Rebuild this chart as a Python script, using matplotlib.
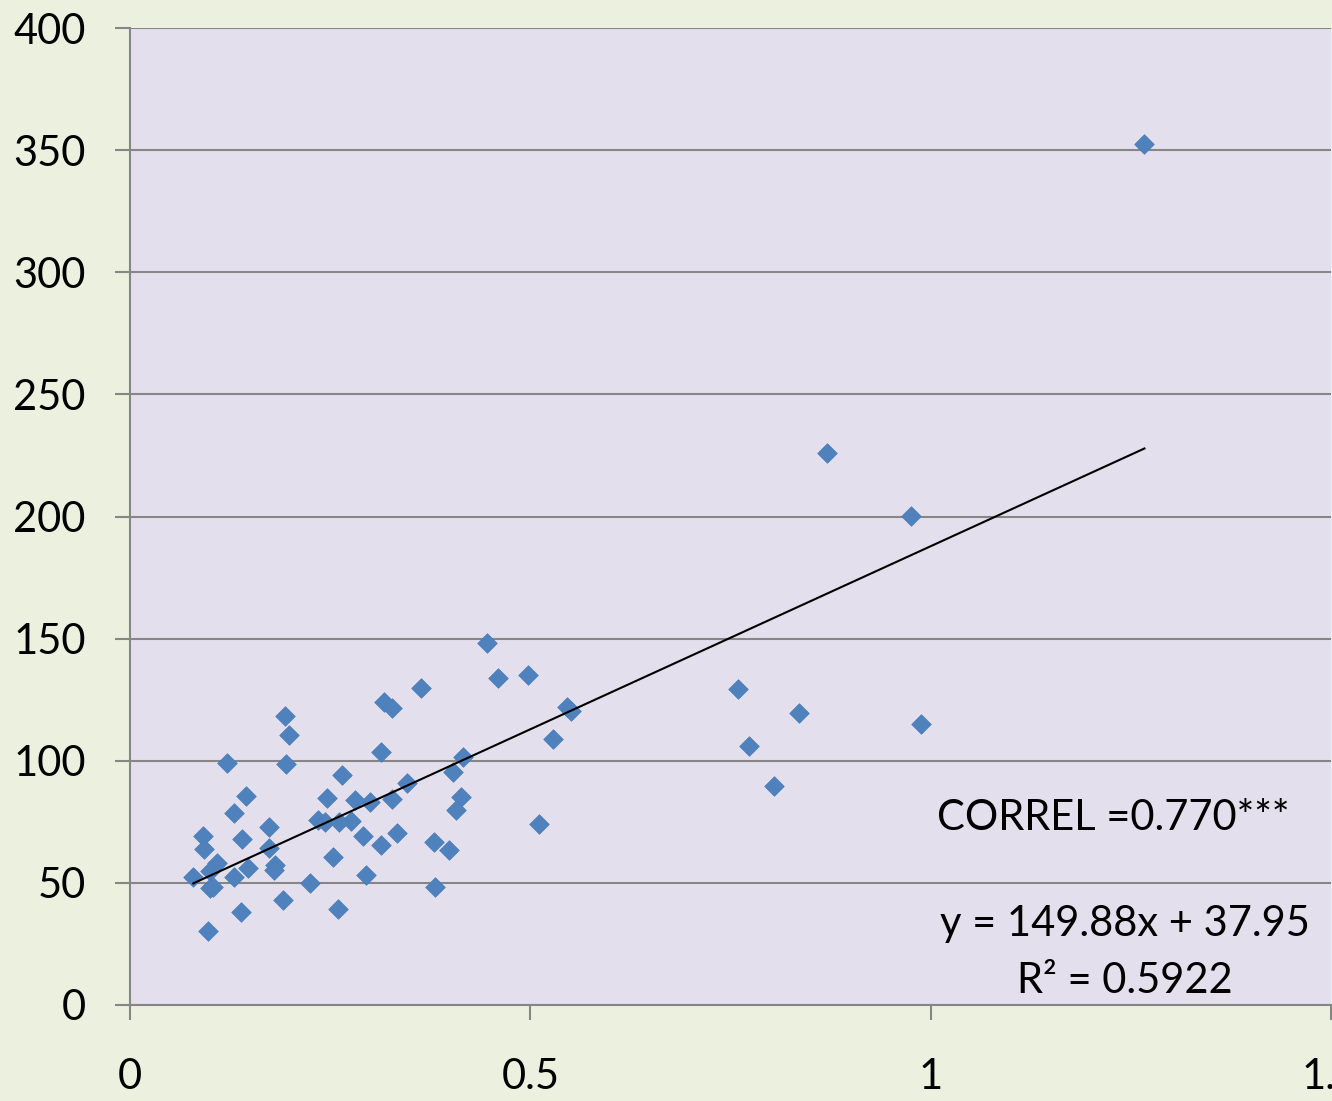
import matplotlib
matplotlib.use("Agg")
import matplotlib.pyplot as plt
import numpy as np

plt.rcParams['font.family'] = ['Lato', 'DejaVu Sans']

x_vals = [1.267, 0.871, 0.976, 0.988, 0.759, 0.773, 0.804, 0.836,
          0.446, 0.459, 0.497, 0.546, 0.551, 0.528, 0.511,
          0.363, 0.317, 0.327, 0.313, 0.416, 0.403, 0.413, 0.407,
          0.380, 0.398, 0.381, 0.346, 0.327, 0.333, 0.313,
          0.300, 0.281, 0.291, 0.276, 0.265, 0.246, 0.235, 0.243,
          0.261, 0.253, 0.295, 0.260, 0.225,
          0.194, 0.199, 0.195, 0.174, 0.174, 0.181, 0.180, 0.191,
          0.121, 0.145, 0.130, 0.140, 0.147, 0.130, 0.139,
          0.091, 0.092, 0.109, 0.100, 0.079, 0.100, 0.104, 0.097]
y_vals = [352.5, 226.0, 200.2, 115.0, 129.4, 106.0, 89.7, 119.5,
          148.2, 133.9, 135.1, 122.0, 120.4, 108.9, 74.1,
          129.8, 124.1, 121.6, 103.6, 101.5, 95.4, 85.2, 79.8,
          66.7, 63.5, 48.3, 90.9, 84.3, 70.4, 65.5,
          83.1, 83.9, 69.2, 75.3, 94.2, 84.7, 75.7, 74.9,
          74.9, 60.6, 53.2, 39.3, 49.9,
          118.3, 110.5, 98.7, 72.9, 64.3, 57.3, 55.3, 43.0,
          99.1, 85.6, 78.6, 68.0, 56.1, 52.4, 38.1,
          69.2, 63.9, 58.1, 54.9, 52.4, 47.9, 48.3, 30.3]

slope = 149.88
intercept = 37.95
x_ticks = [0, 0.5, 1, 1.5]
x_tick_labels = ['0', '0.5', '1', '1.5']
y_ticks = [0, 50, 100, 150, 200, 250, 300, 350, 400]

W, H = 1332, 1101
fig = plt.figure(figsize=(W / 100, H / 100), dpi=100)
fig.patch.set_facecolor('#EBF1DE')
ax = fig.add_axes([130 / W, 1 - 1005 / H, 1201 / W, (1005 - 28) / H])
ax.set_facecolor('#E4DFEC')

ax.set_xlim(0, 1.5)
ax.set_ylim(0, 400)
ax.set_yticks(y_ticks)
ax.set_yticklabels([str(v) for v in y_ticks])
ax.set_xticks(x_ticks)
ax.set_xticklabels(x_tick_labels)

ax.grid(axis='y', color='#868686', linewidth=1.5)
ax.set_axisbelow(True)
for s in ['top', 'right']:
    ax.spines[s].set_visible(False)
for s in ['left', 'bottom']:
    ax.spines[s].set_color('#868686')
    ax.spines[s].set_linewidth(1.5)

ax.tick_params(axis='both', direction='out', color='#868686', width=1.5,
               length=11, labelsize=30, labelcolor='black')
ax.tick_params(axis='y', pad=21)
ax.tick_params(axis='x', pad=27)

ax.scatter(x_vals, y_vals, marker='D', s=100, color='#4F81BD',
           edgecolors='#4A7EBB', linewidths=0.5, zorder=3, clip_on=False)

xs = np.array([min(x_vals), max(x_vals)])
ax.plot(xs, slope * xs + intercept, color='black', linewidth=1.5, zorder=4)

ax.text(1.228, 76.6, 'CORREL =0.770***', fontsize=30, ha='center', va='center')
ax.text(1.243, 33.0, 'y = 149.88x + 37.95', fontsize=30, ha='center', va='center')
ax.text(1.243, 10.0, 'R² = 0.5922', fontsize=30, ha='center', va='center')

fig.savefig('out.png', dpi=100, facecolor=fig.get_facecolor())
